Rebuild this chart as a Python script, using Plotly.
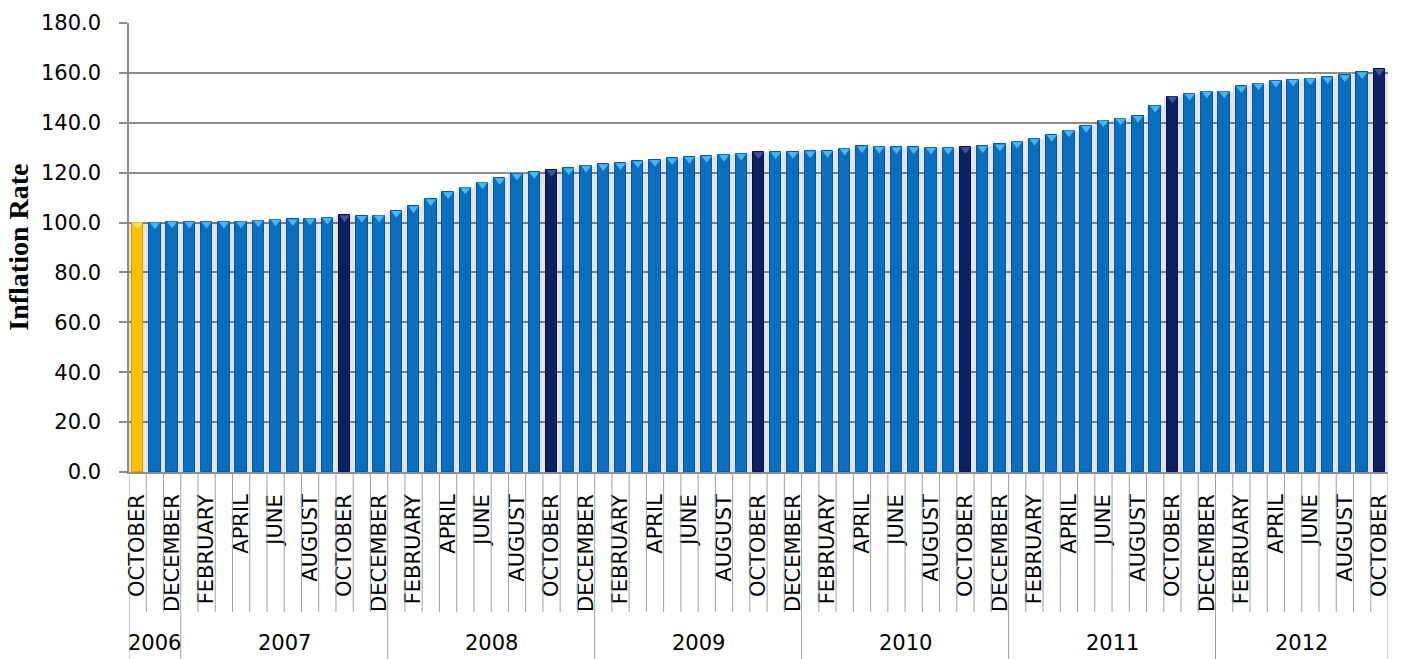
import plotly.graph_objects as go

# Monthly index values, October 2006 .. October 2012
months = ["JANUARY", "FEBRUARY", "MARCH", "APRIL", "MAY", "JUNE", "JULY",
          "AUGUST", "SEPTEMBER", "OCTOBER", "NOVEMBER", "DECEMBER"]
start_year, start_month = 2006, 10

values = [
    100.0, 100.0, 100.4,                                                  # 2006 Oct-Dec
    100.3, 100.3, 100.3, 100.4, 100.8, 101.2, 101.3, 101.6, 101.9, 102.9, 102.6, 102.8,  # 2007
    104.6, 106.5, 109.3, 112.1, 114.0, 116.0, 117.8, 119.5, 120.2, 121.0, 121.8, 122.8,  # 2008
    123.4, 123.8, 124.6, 125.1, 125.8, 126.3, 126.7, 127.2, 127.6, 128.2, 128.2, 128.3,  # 2009
    128.6, 128.7, 129.6, 130.6, 130.4, 130.2, 130.2, 130.0, 130.0, 130.2, 130.6, 131.3,  # 2010
    132.4, 133.6, 135.1, 136.9, 138.7, 140.9, 141.7, 142.7, 146.8, 150.5, 151.6, 152.5,  # 2011
    152.5, 154.6, 155.7, 156.8, 157.2, 157.7, 158.2, 159.0, 160.2, 161.5,                # 2012 Jan-Oct
]

y_ticks = [0, 20, 40, 60, 80, 100, 120, 140, 160, 180]

# month / year of every bar
n = len(values)
bar_month, bar_year = [], []
for i in range(n):
    m = start_month - 1 + i
    bar_month.append(months[m % 12])
    bar_year.append(start_year + m // 12)

x = list(range(n))

# colours: base month gold, each October dark navy, the rest blue
BLUE, NAVY, GOLD = "#0A6EBE", "#0B2161", "#FFC000"
bar_colors, edge_colors, top_colors = [], [], []
for i in range(n):
    if i == 0:
        bar_colors.append(GOLD); edge_colors.append("#D9A200"); top_colors.append("#FFE36B")
    elif bar_month[i] == "OCTOBER":
        bar_colors.append(NAVY); edge_colors.append("#06143F"); top_colors.append("#3A56A0")
    else:
        bar_colors.append(BLUE); edge_colors.append("#05589C"); top_colors.append("#4DB6F2")

fig = go.Figure()

# depth shading behind the bars
fig.add_trace(go.Bar(
    x=x, y=values, width=1.0,
    marker=dict(color="rgba(0,0,0,0.11)", line=dict(width=0)),
    hoverinfo="skip", showlegend=False,
))

# main bars
fig.add_trace(go.Bar(
    x=x, y=values, width=0.66,
    marker=dict(color=bar_colors, line=dict(color=edge_colors, width=1)),
    showlegend=False,
))

# light top facets
y_min, y_max = 0, 180
plot_h = 659 - 23 - 187
units_per_px = (y_max - y_min) / plot_h
fig.add_trace(go.Scatter(
    x=x, y=[v - 2.2 * units_per_px for v in values], mode="markers",
    marker=dict(symbol="triangle-down", size=9, color=top_colors, line=dict(width=0)),
    hoverinfo="skip", showlegend=False,
))

# category separators under the axis, year separators reach the bottom
shapes = []
month_line = -140 / plot_h
year_line = -187 / plot_h
for i in range(n + 1):
    b = i - 0.5
    is_year_edge = i == 0 or i == n or (i < n and bar_month[i] == "JANUARY")
    shapes.append(dict(
        type="line", xref="x", yref="paper", x0=b, x1=b, y0=0,
        y1=year_line if is_year_edge else month_line,
        line=dict(color="#A0A0A0", width=1), layer="above",
    ))

# year labels centred on their month spans
annotations = []
years = sorted(set(bar_year))
for yr in years:
    idx = [i for i in range(n) if bar_year[i] == yr]
    annotations.append(dict(
        x=(idx[0] + idx[-1]) / 2, y=-171 / plot_h, xref="x", yref="paper",
        text=str(yr), showarrow=False, xanchor="center", yanchor="middle",
        font=dict(family="DejaVu Sans", size=21, color="#000000"),
    ))

annotations.append(dict(
    x=-111 / 1262, y=0.5, xref="paper", yref="paper", text="<b>Inflation Rate</b>",
    textangle=-90, showarrow=False, xanchor="center", yanchor="middle",
    font=dict(family="Liberation Serif", size=28, color="#000000"),
))

fig.update_layout(
    width=1401, height=659,
    margin=dict(l=129, r=10, t=23, b=187),
    paper_bgcolor="white", plot_bgcolor="white",
    barmode="overlay", bargap=0,
    shapes=shapes, annotations=annotations,
    xaxis=dict(
        range=[-0.5, n - 0.5],
        tickvals=[i for i in range(n) if i % 2 == 0],
        ticktext=[bar_month[i] for i in range(n) if i % 2 == 0],
        tickangle=-90, ticks="", ticklabelstandoff=12,
        tickfont=dict(family="DejaVu Sans", size=21, color="#000000"),
        showline=True, linecolor="#8C8C8C", linewidth=1.5,
        showgrid=False, zeroline=False,
    ),
    yaxis=dict(
        range=[y_min, y_max], tickvals=y_ticks, tickformat=".1f",
        ticks="outside", ticklen=8, tickcolor="#8C8C8C", tickwidth=1.5,
        ticklabelstandoff=14,
        tickfont=dict(family="DejaVu Sans", size=21, color="#000000"),
        showline=True, linecolor="#8C8C8C", linewidth=1.5,
        showgrid=True, gridcolor="#8C8C8C", gridwidth=1.5,
        zeroline=False,
    ),
)

fig.write_html("out.html")
